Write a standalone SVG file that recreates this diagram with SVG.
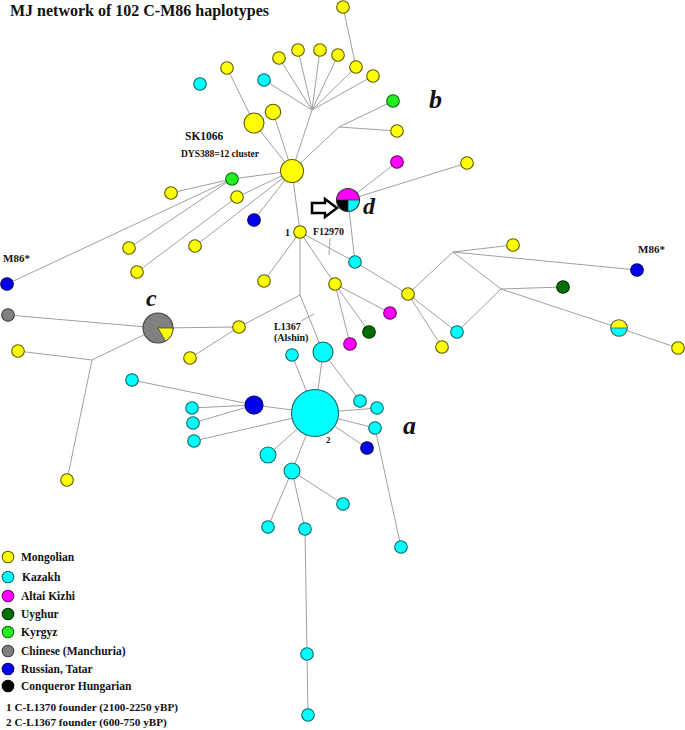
<svg xmlns="http://www.w3.org/2000/svg" width="685" height="730" viewBox="0 0 685 730">
<style>
.e{stroke:#a0a0a0;stroke-width:1;fill:none}
.n{stroke:#444;stroke-width:1.1}
.Y{fill:#ffff00;stroke:#5a5a00}
.C{fill:#00ffff;stroke:#106868}
.M{fill:#ff00ff;stroke:#6a006a}
.U{fill:#007000;stroke:#003000}
.K{fill:#22ee22;stroke:#0a6a0a}
.G{fill:#808080;stroke:#404040}
.B{fill:#0000ee;stroke:#000060}
.H{fill:#000000;stroke:#000000}
.t{font-family:"Liberation Serif","Times New Roman",serif;font-weight:bold;fill:#111}
.lab{font-family:"Liberation Serif","Times New Roman",serif;font-weight:bold;font-style:italic;fill:#111}
</style>
<rect width="685" height="730" fill="#ffffff"/>
<text class="t" x="10" y="16" font-size="16">MJ network of 102 C-M86 haplotypes</text>

<g id="connectors">
<path class="e" d="M343,7 L356,67"/>
<path class="e" d="M312,110 L264,80 M312,110 L279,58 M312,110 L298,50 M312,110 L320,50 M312,110 L338,55 M312,110 L356,67 M312,110 L373,76 M312,110 L292,171"/>
<path class="e" d="M339,127 L292,171 M339,127 L393,101 M339,127 L397,131"/>
<path class="e" d="M254,123 L227,68 M254,123 L292,171 M273,112 L292,171"/>
<path class="e" d="M232,179 L292,171 M232,179 L171,193 M232,179 L129,248 M232,179 L7,284"/>
<path class="e" d="M237,197 L292,171 M237,197 L137,272 M195,246 L292,171 M254,220 L292,171"/>
<path class="e" d="M292,171 L300,232 M300,232 L264,281"/>
<path class="e" d="M300,232 L355,262 L408,294 M355,262 L348,200 M348,200 L397,162 M348,200 L467,163"/>
<path class="e" d="M300,232 L335,284 M335,284 L390,313 M335,284 L369,332 M335,284 L350,344"/>
<path class="e" d="M408,294 L457,332 M408,294 L442,347 M408,294 L453,252 M453,252 L513,245 M453,252 L637,270 M453,252 L501,289 M501,289 L457,332 M501,289 L563,287 M501,289 L619,328 L678,348"/>
<path class="e" d="M300,232 L300,295 M300,295 L323,352 M300,295 L239,327 M239,327 L190,358 M239,327 L158,328 M158,328 L8,315 M158,328 L92,360 M92,360 L18,351 M92,360 L67,480"/>
<path class="e" d="M301,321 L314,314 M330,238 L329,255" stroke="#333"/>
<path class="e" d="M315,413 L323,352 M315,413 L292,355 M323,352 L360,401 M315,413 L377,408 M315,413 L375,428 L401,547 M315,413 L367,448 M315,413 L254,405 M254,405 L132,380 M254,405 L192,408 M254,405 L193,423 M315,413 L194,441 M315,413 L268,455 M315,413 L292,471 M292,471 L343,504 M292,471 L268,527 M292,471 L305,529 L307,654 L308,715"/>
</g>

<g id="nodes">
<g id="n_top"><circle class="n Y" cx="343" cy="7" r="6.3"/></g>
<g id="n_t1"><circle class="n Y" cx="298" cy="50" r="6.3"/></g>
<g id="n_t2"><circle class="n Y" cx="320" cy="50" r="6.3"/></g>
<g id="n_t3"><circle class="n Y" cx="338" cy="55" r="6.3"/></g>
<g id="n_t4"><circle class="n Y" cx="279" cy="58" r="6.3"/></g>
<g id="n_t5"><circle class="n Y" cx="356" cy="67" r="6.3"/></g>
<g id="n_t6"><circle class="n Y" cx="373" cy="76" r="6.3"/></g>
<g id="n_t7"><circle class="n C" cx="264" cy="80" r="6.3"/></g>
<g id="n_t8"><circle class="n Y" cx="227" cy="68" r="6.3"/></g>
<g id="n_t9"><circle class="n C" cx="200" cy="84" r="6.3"/></g>
<g id="n_t10"><circle class="n K" cx="393" cy="101" r="6.3"/></g>
<g id="n_t11"><circle class="n Y" cx="397" cy="131" r="6.3"/></g>
<g id="n_big1"><circle class="n Y" cx="254" cy="123" r="10"/></g>
<g id="n_med1"><circle class="n Y" cx="273" cy="112" r="7.7"/></g>
<g id="n_sk1066"><circle class="n Y" cx="292" cy="171" r="11.5"/>
<text class="t" x="185" y="140" font-size="11.5">SK1066</text>
<text class="t" x="181" y="157" font-size="9.5">DYS388=12 cluster</text></g>
<g id="n_l1"><circle class="n K" cx="232" cy="179" r="6.3"/></g>
<g id="n_l2"><circle class="n Y" cx="171" cy="193" r="6.3"/></g>
<g id="n_l3"><circle class="n Y" cx="237" cy="197" r="6.3"/></g>
<g id="n_l4"><circle class="n B" cx="254" cy="220" r="6.3"/></g>
<g id="n_l5"><circle class="n Y" cx="129" cy="248" r="6.3"/></g>
<g id="n_l6"><circle class="n Y" cx="195" cy="246" r="6.3"/></g>
<g id="n_l7"><circle class="n Y" cx="137" cy="272" r="6.3"/></g>
<g id="n_l8"><circle class="n Y" cx="264" cy="281" r="6.3"/></g>
<g id="n_m86l"><circle class="n B" cx="7" cy="284" r="6.3"/>
<text class="t" x="3" y="262" font-size="11">M86*</text></g>
<g id="n_1"><circle class="n Y" cx="300" cy="232" r="6.3"/>
<text class="t" x="285" y="236" font-size="10">1</text>
<text class="t" x="313" y="235" font-size="10">F12970</text></g>
<g id="n_d">
<path d="M336.5,200 A11.5,11.5 0 0 1 359.5,200 Z" fill="#ff00ff"/>
<path d="M348,200 L336.5,200 A11.5,11.5 0 0 0 348,211.5 Z" fill="#000"/>
<path d="M348,200 L348,211.5 A11.5,11.5 0 0 0 359.5,200 Z" fill="#00ffff"/>
<path d="M336.5,200 H359.5 M348,200 V211.5" stroke="#333" stroke-width="0.8"/>
<circle cx="348" cy="200" r="11.5" fill="none" stroke="#333" stroke-width="1.1"/>
<text class="lab" x="363" y="214" font-size="24">d</text>
<path d="M312,203 H325 V199 L337,208 L325,217 V213 H312 Z" fill="#fff" stroke="#000" stroke-width="2.5" stroke-linejoin="miter"/>
</g>
<g id="n_d1"><circle class="n M" cx="397" cy="162" r="6.3"/></g>
<g id="n_d2"><circle class="n Y" cx="467" cy="163" r="6.3"/></g>
<g id="n_r1"><circle class="n C" cx="355" cy="262" r="6.3"/></g>
<g id="n_r2"><circle class="n Y" cx="335" cy="284" r="6.3"/></g>
<g id="n_r3"><circle class="n M" cx="390" cy="313" r="6.3"/></g>
<g id="n_r4"><circle class="n U" cx="369" cy="332" r="6.3"/></g>
<g id="n_r5"><circle class="n M" cx="350" cy="344" r="6.3"/></g>
<g id="n_r6"><circle class="n Y" cx="408" cy="294" r="6.3"/></g>
<g id="n_r7"><circle class="n C" cx="457" cy="332" r="6.3"/></g>
<g id="n_r8"><circle class="n Y" cx="442" cy="347" r="6.3"/></g>
<g id="n_r9"><circle class="n Y" cx="513" cy="245" r="6.3"/></g>
<g id="n_m86r"><circle class="n B" cx="637" cy="270" r="6.3"/>
<text class="t" x="638" y="253" font-size="11">M86*</text></g>
<g id="n_r10"><circle class="n U" cx="563" cy="287" r="6.3"/></g>
<g id="n_r11">
<path d="M610.7,328 A8.3,8.3 0 0 1 627.3,328 Z" fill="#ffff00"/>
<path d="M610.7,328 A8.3,8.3 0 0 0 627.3,328 Z" fill="#00ffff"/>
<path d="M610.7,328 H627.3" stroke="#555" stroke-width="0.8"/>
<circle cx="619" cy="328" r="8.3" fill="none" stroke="#555" stroke-width="1.1"/></g>
<g id="n_r12"><circle class="n Y" cx="678" cy="348" r="6.3"/></g>
<g id="n_c">
<circle class="n G" cx="158" cy="328" r="15"/>
<path d="M158,328 L173,328 A15,15 0 0 1 165.5,341 Z" fill="#ffff00" stroke="#444" stroke-width="0.8"/>
<text class="lab" x="146" y="306" font-size="24">c</text></g>
<g id="n_c1"><circle class="n G" cx="8" cy="315" r="6.3"/></g>
<g id="n_c2"><circle class="n Y" cx="18" cy="351" r="6.3"/></g>
<g id="n_c3"><circle class="n Y" cx="67" cy="480" r="6.3"/></g>
<g id="n_c4"><circle class="n Y" cx="239" cy="327" r="6.3"/></g>
<g id="n_c5"><circle class="n Y" cx="190" cy="358" r="6.3"/></g>
<g id="n_l1367"><text class="t" x="274" y="330" font-size="10">L1367</text>
<text class="t" x="274" y="341" font-size="10">(Alshin)</text></g>
<g id="n_a0"><circle class="n C" cx="323" cy="352" r="10"/></g>
<g id="n_a"><circle class="n C" cx="315" cy="413" r="23.5"/>
<text class="t" x="326" y="443" font-size="9">2</text>
<text class="lab" x="403" y="434" font-size="26">a</text></g>
<g id="n_a1"><circle class="n C" cx="292" cy="355" r="6.3"/></g>
<g id="n_a2"><circle class="n C" cx="360" cy="401" r="6.3"/></g>
<g id="n_a3"><circle class="n C" cx="377" cy="408" r="6.3"/></g>
<g id="n_a4"><circle class="n C" cx="375" cy="428" r="6.3"/></g>
<g id="n_a5"><circle class="n B" cx="367" cy="448" r="6.3"/></g>
<g id="n_a6"><circle class="n C" cx="401" cy="547" r="6.3"/></g>
<g id="n_a7"><circle class="n B" cx="254" cy="405" r="9"/></g>
<g id="n_a8"><circle class="n C" cx="132" cy="380" r="6.3"/></g>
<g id="n_a9"><circle class="n C" cx="192" cy="408" r="6.3"/></g>
<g id="n_a10"><circle class="n C" cx="193" cy="423" r="6.3"/></g>
<g id="n_a11"><circle class="n C" cx="194" cy="441" r="6.3"/></g>
<g id="n_a12"><circle class="n C" cx="268" cy="455" r="8"/></g>
<g id="n_a13"><circle class="n C" cx="292" cy="471" r="8"/></g>
<g id="n_a14"><circle class="n C" cx="343" cy="504" r="6.3"/></g>
<g id="n_a15"><circle class="n C" cx="268" cy="527" r="6.3"/></g>
<g id="n_a16"><circle class="n C" cx="305" cy="529" r="6.3"/></g>
<g id="n_a17"><circle class="n C" cx="307" cy="654" r="6.3"/></g>
<g id="n_a18"><circle class="n C" cx="308" cy="715" r="6.3"/></g>
<text class="lab" x="429" y="108" font-size="26">b</text>
</g>

<g id="legend">
<circle class="n Y" cx="8" cy="557" r="5.8"/><text class="t" x="21" y="561" font-size="11.5">Mongolian</text>
<circle class="n C" cx="8" cy="577" r="5.8"/><text class="t" x="22" y="581" font-size="11.5">Kazakh</text>
<circle class="n M" cx="8" cy="596" r="5.8"/><text class="t" x="21" y="600" font-size="11.5">Altai Kizhi</text>
<circle class="n U" cx="8" cy="614" r="5.8"/><text class="t" x="21" y="618" font-size="11.5">Uyghur</text>
<circle class="n K" cx="8" cy="632" r="5.8"/><text class="t" x="21" y="636" font-size="11.5">Kyrgyz</text>
<circle class="n G" cx="8" cy="651" r="5.8"/><text class="t" x="21" y="655" font-size="11.5">Chinese (Manchuria)</text>
<circle class="n B" cx="8" cy="669" r="5.8"/><text class="t" x="21" y="673" font-size="11.5">Russian, Tatar</text>
<circle class="n H" cx="8" cy="686" r="5.8"/><text class="t" x="21" y="690" font-size="11.5">Conqueror Hungarian</text>
<text class="t" x="6" y="711" font-size="11.2">1 C-L1370 founder (2100-2250 yBP)</text>
<text class="t" x="6" y="726" font-size="11.2">2 C-L1367 founder (600-750 yBP)</text>
</g>
</svg>
